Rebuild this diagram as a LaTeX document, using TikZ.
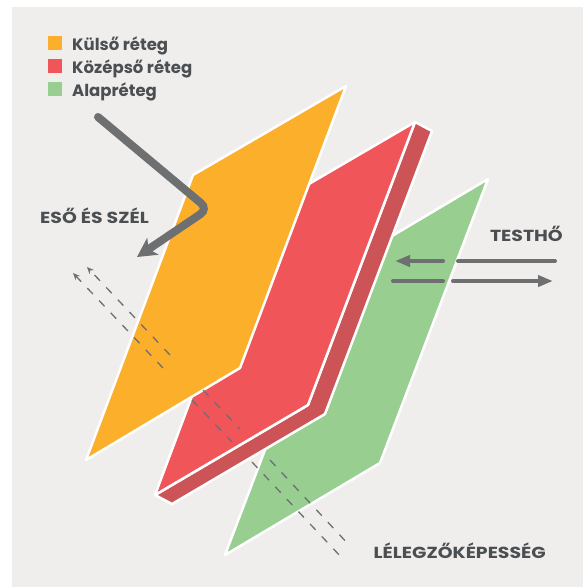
\documentclass[tikz,border=0pt]{standalone}
\usepackage{fontspec}
\setmainfont{Poppins}
\newfontfamily\capsfont{Poppins}[FakeStretch=1.18]
\usepackage{tikz}
\usetikzlibrary{arrows.meta, calc}
\definecolor{bggray}{RGB}{239,238,237}
\definecolor{outer}{RGB}{252,175,43}
\definecolor{middle}{RGB}{240,86,89}
\definecolor{middledark}{RGB}{204,83,86}
\definecolor{base}{RGB}{152,206,144}
\definecolor{arrowgray}{RGB}{109,111,112}
\definecolor{textgray}{RGB}{75,79,82}

\begin{document}
\begin{tikzpicture}[x=1pt, y=-1pt,
  layer/.style={draw=white, line width=2.5pt, line join=round},
  lbl/.style={text=textgray, font=\capsfont\bfseries\fontsize{16}{16}\selectfont, inner sep=0pt},
  leg/.style={text=textgray, font=\bfseries\fontsize{16.5}{16.5}\selectfont, inner sep=0pt},
  legbox/.style={minimum size=14pt, inner sep=0pt},
  flow/.style={arrowgray, line width=1.3pt, dash pattern=on 8pt off 9pt},
  heat/.style={arrowgray, line width=4pt, line cap=round}]
  \useasboundingbox (0,0) rectangle (583,587);
  \fill[bggray] (12,7) rectangle (583,587);

  % base layer
  \filldraw[layer, fill=base] (225,555) -- (333,271) -- (488,179) -- (380,463) -- cycle;
  % middle layer with its side
  \filldraw[layer, fill=middledark] (155,495) -- (308,405) -- (415,122) -- (432,131) -- (325,414) -- (172,504) -- cycle;
  \filldraw[layer, fill=middle] (155,495) -- (261,212) -- (415,122) -- (308,405) -- cycle;
  % outer layer
  \filldraw[layer, fill=outer] (86,460) -- (193,175) -- (346,86) -- (240,368) -- cycle;

  % breathability
  \draw[flow, -{Stealth[length=7pt, width=6pt]}] (163,368) -- (73,273);
  \draw[flow] (192,400) -- (232,442);
  \draw[flow] (252,462) -- (342,558);
  \draw[flow, -{Stealth[length=7pt, width=6pt]}] (170,355) -- (87,267);
  \draw[flow] (203,390) -- (240,429);
  \draw[flow] (270,460) -- (350,546);

  % rain and wind
  \coordinate (rainstart) at (98,117);
  \coordinate (rainbend) at (208,209);
  \coordinate (rainend) at (137,257);
  \draw[arrowgray, line width=8pt, line cap=round, rounded corners=9pt,
        -{Stealth[length=19pt, width=20pt, inset=5pt]}] (rainstart) -- (rainbend) -- (rainend);

  % body heat
  \draw[heat] (555,261) -- (458,261);
  \draw[heat, -{Triangle[length=15pt, width=11pt]}] (443,261) -- (395,261);
  \draw[heat] (393,281) -- (443,281);
  \draw[heat, -{Triangle[length=15pt, width=11pt]}] (453,281) -- (553,281);

  \node[lbl, anchor=base east] (wind) at (149,223) {ESŐ ÉS SZÉL};
  \node[lbl, anchor=base east] (heattxt) at (563,241) {TESTHŐ};
  \node[lbl, anchor=base east] (breath) at (546,558) {LÉLEGZŐKÉPESSÉG};

  % legend
  \node[legbox, fill=outer] (kulso) at (54.5,43) {};
  \node[legbox, fill=middle] (kozepso) at (54.5,66) {};
  \node[legbox, fill=base] (alap) at (54.5,89) {};
  \node[leg, anchor=base west] at (72,50.5) {Külső réteg};
  \node[leg, anchor=base west] at (72,73.5) {Középső réteg};
  \node[leg, anchor=base west] at (72,96.5) {Alapréteg};
\end{tikzpicture}
\end{document}
